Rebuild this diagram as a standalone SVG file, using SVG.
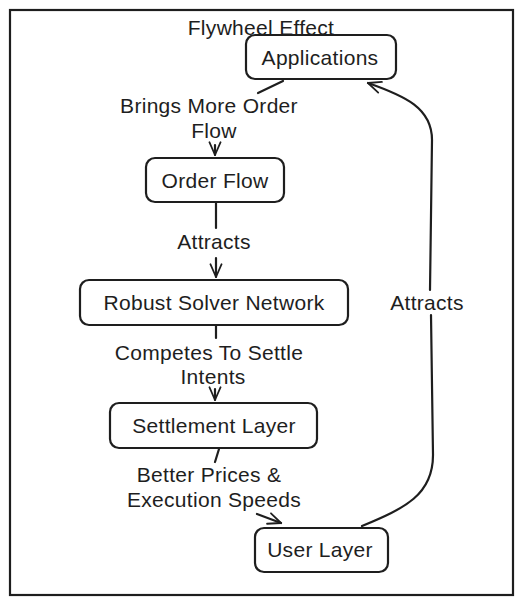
<svg xmlns="http://www.w3.org/2000/svg" width="527" height="606" viewBox="0 0 527 606">
<style>
.bg{fill:#ffffff}
.frame{fill:none;stroke:#1e1e1e;stroke-width:2.2}
.node rect{fill:#ffffff;stroke:#1e1e1e;stroke-width:2.2}
text{font-family:"Liberation Sans",Arial,sans-serif;font-size:21px;fill:#1e1e1e;text-anchor:middle;dominant-baseline:central;letter-spacing:0.3px}
.conn path{fill:none;stroke:#1e1e1e;stroke-width:2.2;stroke-linecap:round;stroke-linejoin:round}
</style>
<defs>
<marker id="ah" viewBox="0 0 20 20" refX="18" refY="10" markerWidth="16" markerHeight="16" markerUnits="userSpaceOnUse" orient="auto">
<path d="M2,3 L18,10 L2,17" fill="none" stroke="#1e1e1e" stroke-width="2.2" stroke-linecap="round" stroke-linejoin="round"/>
</marker>
</defs>
<rect class="bg" x="0" y="0" width="527" height="606"/>
<rect class="frame" x="10" y="10" width="503" height="585"/>
<text id="title" x="261" y="27">Flywheel Effect</text>

<g id="connectors" class="conn">
<path d="M283,81 L258,93 M215,145 L215,155" marker-end="url(#ah)"/>
<path d="M216,203 L216,228 M216,258 L216,277" marker-end="url(#ah)"/>
<path d="M216,326 L216,338 M215,389 L215,400" marker-end="url(#ah)"/>
<path d="M219,449 L215,462 M257,514 L281,523" marker-end="url(#ah)"/>
<path d="M362,526 C405,508 433,495 433,455 L431,315 M430,290 L432,140 C432,108 405,96 368,83" marker-end="url(#ah)"/>
</g>

<g id="labels">
<text x="209" y="105">Brings More Order</text>
<text x="214" y="130">Flow</text>
<text x="214" y="241">Attracts</text>
<text x="209" y="352">Competes To Settle</text>
<text x="213" y="376">Intents</text>
<text x="209" y="474">Better Prices &amp;</text>
<text x="214" y="499">Execution Speeds</text>
<text x="427" y="302">Attracts</text>
</g>

<g id="applications" class="node">
<rect x="246" y="35" width="150" height="44" rx="9"/>
<text x="320" y="57">Applications</text>
</g>
<g id="order-flow" class="node">
<rect x="146" y="158" width="138" height="44" rx="9"/>
<text x="215" y="180">Order Flow</text>
</g>
<g id="robust-solver-network" class="node">
<rect x="80" y="280" width="268" height="45" rx="9"/>
<text x="214" y="302">Robust Solver Network</text>
</g>
<g id="settlement-layer" class="node">
<rect x="110" y="403" width="207" height="45" rx="9"/>
<text x="214" y="425">Settlement Layer</text>
</g>
<g id="user-layer" class="node">
<rect x="255" y="528" width="133" height="44" rx="9"/>
<text x="320" y="549">User Layer</text>
</g>
</svg>
